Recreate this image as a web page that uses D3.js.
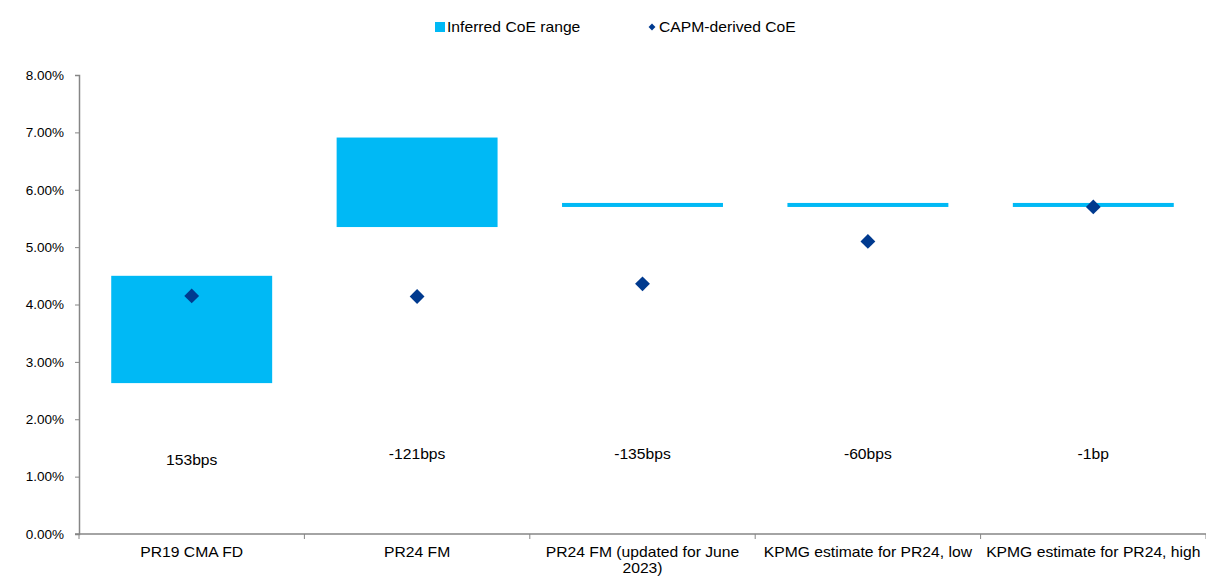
<!DOCTYPE html>
<html><head><meta charset="utf-8">
<script src="https://cdn.jsdelivr.net/npm/d3@7"></script>
<style>body{margin:0;background:#fff;} text{font-family:"Liberation Sans",Arial,sans-serif;}</style>
</head><body><svg id="c" width="1206" height="577"></svg>
<script>
const categories = ["PR19 CMA FD","PR24 FM","PR24 FM (updated for June 2023)","KPMG estimate for PR24, low","KPMG estimate for PR24, high"];
const rangeLow  = [2.63, 5.35, 5.70, 5.70, 5.70];
const rangeHigh = [4.50, 6.91, 5.77, 5.77, 5.77];
const capmCoE   = [4.15, 4.14, 4.36, 5.10, 5.70];
const diffLabels = ["153bps","-121bps","-135bps","-60bps","-1bp"];
const diffLabelLevel = [1.29, 1.40, 1.39, 1.39, 1.40];
const yTicks = [0,1,2,3,4,5,6,7,8];

const svg = d3.select("#c");
const m = {l:79, r:0};
const W = 1206;
const SX = 1.12; // horizontal stretch of text as in reference
const x = d3.scaleBand().domain(categories).range([m.l, W - m.r]).paddingInner(0).paddingOuter(0);
const y = d3.scaleLinear().domain([0,8]).range([534, 75]);
const barW = x.bandwidth()*0.714;
const lightBlue = "#00B9F5", navy = "#003A8F";
const cx = c => x(c) + x.bandwidth()/2;

// bars
svg.append("g").selectAll("rect").data(categories).join("rect")
  .attr("x", d => x(d) + (x.bandwidth()-barW)/2)
  .attr("width", barW)
  .attr("y", (d,i) => y(rangeHigh[i]))
  .attr("height", (d,i) => y(rangeLow[i]) - y(rangeHigh[i]))
  .attr("fill", lightBlue);

// y axis
const yAxis = svg.append("g").attr("transform",`translate(${m.l},0)`)
  .call(d3.axisLeft(y).tickValues(yTicks).tickSize(4).tickPadding(11).tickFormat(d => d.toFixed(2)+"%"));
yAxis.select(".domain").attr("stroke","#868686").attr("stroke-width",1.5);
yAxis.selectAll(".tick line").attr("stroke","#868686");
yAxis.selectAll(".tick text").attr("font-size",13.5).attr("fill","#000").attr("font-family","Liberation Sans, Arial, sans-serif");

// x axis
const xg = svg.append("g").attr("transform",`translate(0,${y(0)})`);
xg.append("line").attr("x1",m.l-4).attr("x2",W).attr("y1",0).attr("y2",0).attr("stroke","#868686").attr("stroke-width",1.5);
const bounds = categories.map(c => x(c)).concat([x(categories[categories.length-1]) + x.bandwidth()]);
xg.selectAll("line.t").data(bounds).join("line").attr("class","t")
  .attr("x1",d=>d).attr("x2",d=>d).attr("y1",0).attr("y2",5).attr("stroke","#868686");
const xl = xg.selectAll("text").data(categories).join("text")
  .attr("transform", d => `translate(${cx(d)},23) scale(${SX},1)`)
  .attr("text-anchor","middle").attr("font-size",14).attr("fill","#000");
xl.each(function(d){
  const t = d3.select(this);
  const parts = d === "PR24 FM (updated for June 2023)" ? ["PR24 FM (updated for June","2023)"] : [d];
  parts.forEach((p,i)=> t.append("tspan").attr("x", 0).attr("dy", i===0?0:16).text(p));
});

// diamonds
const sym = d3.symbol().type(d3.symbolDiamond2).size(140);
svg.append("g").selectAll("path").data(capmCoE).join("path")
  .attr("d", sym)
  .attr("transform", (d,i) => `translate(${cx(categories[i])},${y(d)})`)
  .attr("fill", navy);

// difference labels
svg.append("g").selectAll("text").data(diffLabels).join("text")
  .attr("transform",(d,i)=> `translate(${cx(categories[i])},${y(diffLabelLevel[i]) + 5}) scale(${SX},1)`)
  .attr("text-anchor","middle").attr("font-size",14).attr("fill","#000").text(d=>d);

// legend
const lg = svg.append("g");
lg.append("rect").attr("x",435).attr("y",22).attr("width",10).attr("height",10).attr("fill",lightBlue);
lg.append("text").attr("transform",`translate(447,32) scale(${SX},1)`).attr("font-size",14).attr("fill","#000").text("Inferred CoE range");
lg.append("path").attr("d", d3.symbol().type(d3.symbolDiamond2).size(30)).attr("transform","translate(652,27)").attr("fill",navy);
lg.append("text").attr("transform",`translate(659,32) scale(${SX},1)`).attr("font-size",14).attr("fill","#000").text("CAPM-derived CoE");
</script></body></html>
